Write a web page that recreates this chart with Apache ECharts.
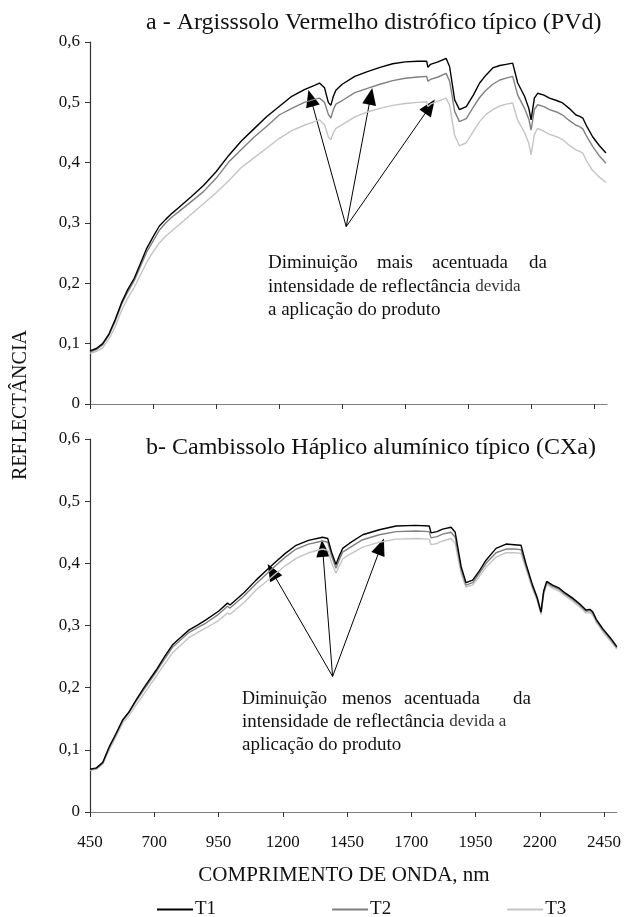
<!DOCTYPE html>
<html>
<head>
<meta charset="utf-8">
<script src="https://cdn.jsdelivr.net/npm/echarts@6/dist/echarts.min.js"></script>
<style>
  html, body { margin: 0; padding: 0; background: #fff; }
  #chart { width: 624px; height: 917px; }
</style>
</head>
<body>
<div id="chart"></div>
<script>
// eixo X comum
const xTicks = [450, 700, 950, 1200, 1450, 1700, 1950, 2200, 2450];
const seriesNames = ['T1', 'T2', 'T3'];

// a - Argissolo Vermelho distrófico típico (PVd)
const wlA = [450, 475, 500, 525, 550, 575, 600, 625, 650, 675, 700, 725, 750, 775, 800, 850, 900, 950,
  1000, 1050, 1100, 1150, 1200, 1250, 1300, 1340, 1360, 1380, 1395, 1405, 1415, 1425, 1450, 1500, 1550,
  1600, 1650, 1700, 1750, 1785, 1790, 1800, 1830, 1862, 1876, 1896, 1915, 1942, 1970, 1995, 2020, 2047,
  2075, 2100, 2126, 2146, 2173, 2190, 2199, 2212, 2225, 2250, 2272, 2300, 2324, 2350, 2377, 2390, 2404,
  2420, 2443, 2470, 2496];
const t1A = [0.088, 0.092, 0.100, 0.116, 0.140, 0.168, 0.190, 0.208, 0.233, 0.258, 0.277, 0.295, 0.306, 0.316, 0.325, 0.343, 0.362, 0.385,
  0.412, 0.436, 0.456, 0.476, 0.493, 0.510, 0.521, 0.528, 0.532, 0.524, 0.500, 0.495, 0.510, 0.520, 0.530, 0.543, 0.551,
  0.558, 0.564, 0.567, 0.568, 0.568, 0.558, 0.563, 0.567, 0.573, 0.559, 0.504, 0.488, 0.493, 0.512, 0.532, 0.545, 0.557,
  0.561, 0.563, 0.565, 0.532, 0.510, 0.490, 0.471, 0.507, 0.515, 0.512, 0.507, 0.503, 0.499, 0.490, 0.479, 0.477, 0.474,
  0.460, 0.443, 0.428, 0.416];
const t2A = [0.086, 0.090, 0.098, 0.114, 0.137, 0.165, 0.186, 0.204, 0.228, 0.252, 0.270, 0.288, 0.300, 0.310, 0.318, 0.335, 0.352, 0.374,
  0.401, 0.422, 0.442, 0.460, 0.479, 0.490, 0.500, 0.505, 0.507, 0.500, 0.480, 0.474, 0.488, 0.497, 0.503, 0.516, 0.523,
  0.530, 0.536, 0.540, 0.542, 0.543, 0.535, 0.538, 0.542, 0.548, 0.535, 0.485, 0.468, 0.473, 0.492, 0.508, 0.520, 0.530,
  0.537, 0.540, 0.543, 0.512, 0.490, 0.472, 0.454, 0.488, 0.496, 0.493, 0.488, 0.484, 0.479, 0.470, 0.462, 0.460, 0.456,
  0.443, 0.427, 0.411, 0.399];
const t3A = [0.084, 0.087, 0.093, 0.108, 0.128, 0.155, 0.176, 0.193, 0.214, 0.235, 0.252, 0.267, 0.278, 0.287, 0.296, 0.314, 0.332, 0.350,
  0.370, 0.392, 0.408, 0.424, 0.440, 0.453, 0.462, 0.468, 0.471, 0.463, 0.443, 0.438, 0.450, 0.457, 0.463, 0.476, 0.484,
  0.490, 0.495, 0.498, 0.500, 0.501, 0.493, 0.497, 0.502, 0.507, 0.495, 0.445, 0.428, 0.433, 0.452, 0.468, 0.480, 0.488,
  0.494, 0.497, 0.499, 0.470, 0.450, 0.432, 0.413, 0.447, 0.457, 0.452, 0.447, 0.443, 0.438, 0.429, 0.421, 0.419, 0.416,
  0.402, 0.387, 0.376, 0.367];

// b - Cambissolo Háplico alumínico típico (CXa)
const wlB = [450, 475, 500, 525, 550, 577, 600, 629, 660, 707, 740, 771, 800, 836, 870, 901, 950, 985, 992, 995,
  1000, 1050, 1096, 1140, 1174, 1210, 1252, 1300, 1355, 1375, 1390, 1407, 1420, 1433, 1459, 1511, 1576, 1641,
  1718, 1770, 1777, 1800, 1822, 1855, 1871, 1894, 1913, 1939, 1965, 1991, 2030, 2069, 2100, 2127, 2146, 2172,
  2190, 2205, 2215, 2227, 2250, 2276, 2300, 2328, 2355, 2380, 2395, 2406, 2420, 2445, 2475, 2500];
const t1B = [0.069, 0.071, 0.080, 0.105, 0.125, 0.148, 0.160, 0.180, 0.200, 0.228, 0.250, 0.269, 0.280, 0.293, 0.301, 0.309, 0.323, 0.336, 0.338, 0.333,
  0.336, 0.353, 0.373, 0.390, 0.403, 0.416, 0.429, 0.437, 0.442, 0.440, 0.418, 0.398, 0.412, 0.424, 0.432, 0.446, 0.454, 0.460,
  0.461, 0.460, 0.449, 0.451, 0.455, 0.458, 0.450, 0.395, 0.369, 0.373, 0.388, 0.405, 0.424, 0.431, 0.430, 0.429, 0.400, 0.365,
  0.345, 0.322, 0.355, 0.371, 0.365, 0.360, 0.352, 0.344, 0.335, 0.325, 0.326, 0.322, 0.310, 0.295, 0.280, 0.266];
const t2B = [0.068, 0.070, 0.079, 0.104, 0.124, 0.147, 0.159, 0.178, 0.197, 0.225, 0.246, 0.265, 0.276, 0.289, 0.297, 0.304, 0.318, 0.331, 0.333, 0.328,
  0.331, 0.348, 0.367, 0.384, 0.397, 0.410, 0.423, 0.431, 0.436, 0.434, 0.412, 0.392, 0.406, 0.418, 0.425, 0.438, 0.446, 0.451,
  0.452, 0.451, 0.441, 0.443, 0.447, 0.450, 0.442, 0.390, 0.365, 0.369, 0.384, 0.400, 0.417, 0.423, 0.423, 0.422, 0.396, 0.362,
  0.343, 0.320, 0.352, 0.369, 0.363, 0.358, 0.350, 0.342, 0.333, 0.323, 0.324, 0.320, 0.308, 0.293, 0.278, 0.264];
const t3B = [0.067, 0.069, 0.077, 0.100, 0.120, 0.143, 0.154, 0.172, 0.190, 0.218, 0.238, 0.256, 0.267, 0.281, 0.289, 0.296, 0.308, 0.320, 0.322, 0.318,
  0.320, 0.337, 0.357, 0.372, 0.384, 0.396, 0.408, 0.417, 0.423, 0.421, 0.401, 0.384, 0.396, 0.407, 0.414, 0.426, 0.434, 0.439,
  0.440, 0.439, 0.430, 0.432, 0.436, 0.440, 0.432, 0.383, 0.362, 0.365, 0.379, 0.394, 0.410, 0.417, 0.417, 0.416, 0.392, 0.359,
  0.340, 0.318, 0.349, 0.366, 0.360, 0.355, 0.347, 0.339, 0.330, 0.320, 0.321, 0.317, 0.305, 0.290, 0.275, 0.262];

// setas das anotações: [origem, ponta] em nm / reflectância
const arrowsA = [
  [[1466, 0.294], [1325, 0.507]],
  [[1466, 0.294], [1563, 0.510]],
  [[1466, 0.294], [1798, 0.493]]
];
const arrowsB = [
  [[1394, 0.218], [1158, 0.387]],
  [[1394, 0.218], [1355, 0.424]],
  [[1394, 0.218], [1582, 0.427]]
];

const serif = '"Liberation Serif", "Times New Roman", serif';
const colors = ['#000000', '#808080', '#c4c4c4'];
const widths = [1.4, 1.4, 1.4];

const zip = (xs, ys) => xs.map((x, i) => [x, ys[i]]);

const xAxisBase = (gridIndex, showLabel) => ({
  type: 'value',
  gridIndex: gridIndex,
  min: 450,
  max: 2500,
  axisLine: { lineStyle: { color: '#808080', width: 1.2 } },
  axisTick: { show: true, inside: false, length: 5, customValues: xTicks, lineStyle: { color: '#333' } },
  axisLabel: {
    show: showLabel, customValues: xTicks, margin: 22,
    color: '#111', fontFamily: serif, fontSize: 17,
    formatter: v => String(v)
  },
  splitLine: { show: false }
});

const yAxisBase = (gridIndex) => ({
  type: 'value',
  gridIndex: gridIndex,
  min: 0,
  max: 0.6,
  interval: 0.1,
  axisLine: { show: true, lineStyle: { color: '#333', width: 1.2 } },
  axisTick: { show: true, inside: false, length: 5, lineStyle: { color: '#333' } },
  axisLabel: {
    margin: 10, color: '#111', fontFamily: serif, fontSize: 17,
    formatter: v => v === 0 ? '0' : v.toFixed(1).replace('.', ',')
  },
  splitLine: { show: false }
});

const arrowLine = (arrows) => ({
  silent: true,
  animation: false,
  symbol: ['none', 'triangle'],
  symbolSize: [14, 17],
  label: { show: false },
  lineStyle: { color: '#000', width: 1, type: 'solid' },
  emphasis: { disabled: true },
  data: arrows.map(a => [{ coord: a[0] }, { coord: a[1] }])
});

const makeSeries = (gridIdx, wl, values, arrows) => values.map((vals, i) => ({
  name: seriesNames[i],
  type: 'line',
  xAxisIndex: gridIdx,
  yAxisIndex: gridIdx,
  data: zip(wl, vals),
  showSymbol: false,
  smooth: false,
  z: 10 - i,
  lineStyle: { color: colors[i], width: widths[i] },
  itemStyle: { color: colors[i] },
  markLine: i === 0 ? arrowLine(arrows) : undefined
}));

const richDevida = { d: { fontFamily: serif, fontSize: 17, fill: '#333' } };

const txt = (text, x, y, extra) => ({
  type: 'text',
  style: Object.assign({
    text: text, x: x, y: y,
    fontFamily: serif, fontSize: 19, fill: '#111',
    verticalAlign: 'middle'
  }, extra || {})
});

const chart = echarts.init(document.getElementById('chart'), null, { renderer: 'canvas' });

chart.setOption({
  animation: false,
  backgroundColor: '#fff',
  grid: [
    { left: 90, top: 42, width: 517, height: 362 },
    { left: 90, top: 439, width: 528, height: 373 }
  ],
  xAxis: [xAxisBase(0, false), xAxisBase(1, true)],
  yAxis: [yAxisBase(0), yAxisBase(1)],
  legend: {
    data: seriesNames,
    left: 152,
    top: 895,
    icon: 'rect',
    itemWidth: 36,
    itemHeight: 2,
    itemGap: 116,
    textStyle: { fontFamily: serif, fontSize: 19, color: '#111', padding: [0, 0, 0, -3] }
  },
  series: [
    ...makeSeries(0, wlA, [t1A, t2A, t3A], arrowsA),
    ...makeSeries(1, wlB, [t1B, t2B, t3B], arrowsB)
  ],
  graphic: [
    // títulos
    txt('a - Argisssolo Vermelho distrófico típico (PVd)', 146, 23, { fontSize: 24 }),
    txt('b- Cambissolo Háplico alumínico típico (CXa)', 146, 448, { fontSize: 24 }),
    // nomes dos eixos
    txt('COMPRIMENTO DE ONDA, nm', 344, 875, { fontSize: 21, align: 'center' }),
    {
      type: 'text',
      x: 21, y: 405, rotation: Math.PI / 2,
      style: { text: 'REFLECTÂNCIA', fontFamily: serif, fontSize: 20, fill: '#111', align: 'center', verticalAlign: 'middle' }
    },
    // anotação a
    txt('Diminuição', 268, 263),
    txt('mais', 377, 263),
    txt('acentuada', 432, 263),
    txt('da', 547, 263, { align: 'right' }),
    txt('intensidade de reflectância {d|devida}', 268, 287, { rich: richDevida }),
    txt('a aplicação do produto', 268, 310),
    // anotação b
    txt('Diminuição', 242, 699, { fontSize: 18 }),
    txt('menos', 342, 699),
    txt('acentuada', 404, 699),
    txt('da', 531, 699, { align: 'right' }),
    txt('intensidade de reflectância {d|devida a}', 242, 722, { rich: richDevida }),
    txt('aplicação do produto', 242, 745)
  ]
});

window.addEventListener('resize', () => chart.resize());
</script>
</body>
</html>
